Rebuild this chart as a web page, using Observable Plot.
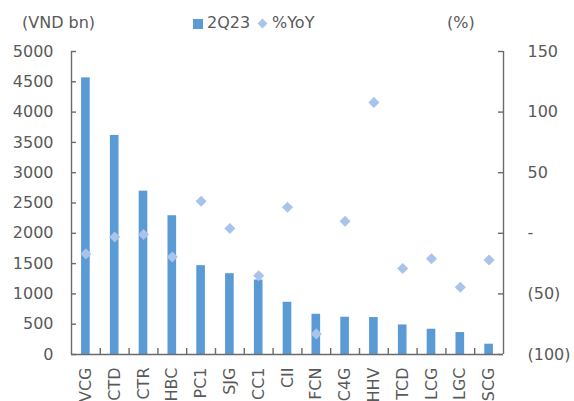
<!DOCTYPE html>
<html><head><meta charset="utf-8">
<script src="https://cdn.jsdelivr.net/npm/d3@7"></script>
<script src="https://cdn.jsdelivr.net/npm/@observablehq/plot@0.6"></script>
<style>
body{margin:0;background:#fff;font-family:"DejaVu Sans",sans-serif;}
#wrap{position:relative;width:574px;height:401px;overflow:hidden;}
.t{position:absolute;font-size:16px;color:#595959;line-height:1;white-space:nowrap;}
#sq{position:absolute;left:193px;top:19px;width:10px;height:10px;background:#5B9BD5;}
#dm{position:absolute;left:259px;top:20px;width:7px;height:7px;background:#A9C4EB;transform:rotate(45deg);}
</style>
</head><body>
<div id="wrap">
  <div class="t" style="left:22px;top:15px">(VND bn)</div>
  <div id="sq"></div><div class="t" style="left:207px;top:15px">2Q23</div>
  <div id="dm"></div><div class="t" style="left:272px;top:15px">%YoY</div>
  <div class="t" style="left:447px;top:15px">(%)</div>
</div>
<script>
const companies = ["VCG","CTD","CTR","HBC","PC1","SJG","CC1","CII","FCN","C4G","HHV","TCD","LCG","LGC","SCG"];
const revenue2Q23 = [4565, 3615, 2695, 2290, 1466, 1334, 1229, 862, 664, 615, 610, 488, 417, 362, 170];
const yoyPct = [-17, -3, -1, -19.5, 26.5, 4, -35, 21.5, -83, 10, 108, -29, -21, -44.5, -22];
const leftTicks = [0,500,1000,1500,2000,2500,3000,3500,4000,4500,5000];
const rightTicks = [-100,-50,0,50,100,150];

const toLeft = v => (v + 100) * 20;
const fmtPct = v => v === 0 ? "-" : v < 0 ? `(${-v})` : `${v}`;
const data = companies.map((c, i) => ({name: c, rev: revenue2Q23[i], yoy: yoyPct[i]}));

const W = 574, H = 401, ML = 71, MR = 71, MT = 51, MB = 47;
const FW = W - ML - MR, FH = H - MT - MB;
const step = FW / companies.length;
const TICK = 5;
const axisColor = "#6b6b6b";
const rightPos = rightTicks.map(toLeft);

const chart = Plot.plot({
  width: W, height: H,
  marginTop: MT, marginBottom: MB, marginLeft: ML, marginRight: MR,
  style: {fontFamily: "DejaVu Sans, sans-serif", fontSize: "16px", color: "#595959", background: "transparent"},
  x: {domain: companies, paddingInner: 0.7, paddingOuter: 0.35, round: false, axis: null},
  y: {domain: [0, 5000], axis: null},
  marks: [
    Plot.barY(data, {x: "name", y: "rev", fill: "#5B9BD5"}),
    Plot.dot(data, {x: "name", y: d => toLeft(d.yoy), symbol: "diamond2", r: 5, fill: "#A9C4EB", stroke: "none"}),
    // frame lines (left, right, bottom)
    Plot.ruleY([0], {stroke: axisColor, strokeWidth: 1.4}),
    Plot.ruleX([companies[0]], {x: d => d, dx: -step / 2, stroke: axisColor, strokeWidth: 1.4}),
    Plot.ruleX([companies[companies.length - 1]], {x: d => d, dx: step / 2, stroke: axisColor, strokeWidth: 1.4}),
    // category boundary ticks (pointing up)
    Plot.ruleX(companies.slice(0, -1), {x: d => d, dx: step / 2, insetTop: FH - TICK - 1, stroke: axisColor, strokeWidth: 1.4}),
    // inward ticks on the value axes
    Plot.ruleY(leftTicks, {y: d => d, insetRight: FW - TICK, stroke: axisColor, strokeWidth: 1.4}),
    Plot.ruleY(rightPos, {y: d => d, insetLeft: FW - TICK, stroke: axisColor, strokeWidth: 1.4}),
    // axis labels
    Plot.axisY(leftTicks, {anchor: "left", tickSize: 0, tickPadding: 18, tickFormat: d => String(d), fill: "#595959", label: null}),
    Plot.axisY(rightPos, {anchor: "right", tickSize: 0, tickPadding: 24, tickFormat: d => fmtPct(d / 20 - 100), textAnchor: "start", fill: "#595959", label: null}),
    Plot.axisX({anchor: "bottom", tickSize: 0, tickPadding: 13, tickRotate: -90, fill: "#595959", label: null})
  ]
});
document.getElementById("wrap").prepend(chart);
chart.style.position = "absolute";
chart.style.left = "0px";
chart.style.top = "0px";
</script>
</body></html>
